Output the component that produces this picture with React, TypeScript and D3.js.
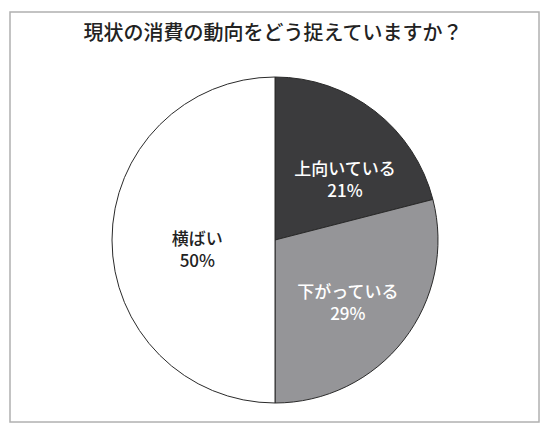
import React, { useRef, useEffect } from 'react';
import * as d3 from 'd3';

// data
const categories = ['上向いている', '下がっている', '横ばい'];
const shares = [21, 29, 50];
const fills = ['#3b3b3d', '#959598', '#ffffff'];
const textColors = ['#ffffff', '#ffffff', '#222222'];
const title = '現状の消費の動向をどう捉えていますか？';

// small label nudges (px) so labels sit where the original put them
const labelShift: [number, number][] = [[15, 11], [2, 8], [12, 10]];

const W = 550;
const H = 434;
const FONT = '"Noto Sans CJK JP", "Noto Sans", sans-serif';

const PieChart: React.FC = () => {
    const ref = useRef<SVGSVGElement>(null);

    useEffect(() => {
        if (!ref.current) return;
        const svg = d3.select(ref.current);
        svg.selectAll('*').remove();

        // frame
        svg.append('rect')
            .attr('x', 10).attr('y', 12)
            .attr('width', 529).attr('height', 410)
            .attr('fill', '#fff')
            .attr('stroke', '#b0b0b0')
            .attr('stroke-width', 1.5);

        svg.append('text')
            .attr('x', 273).attr('y', 40)
            .attr('text-anchor', 'middle')
            .style('font-family', FONT)
            .style('font-size', '20px')
            .style('font-weight', 500)
            .style('fill', '#222')
            .text(title);

        const cx = 275, cy = 240, radius = 163;
        const g = svg.append('g').attr('transform', `translate(${cx},${cy})`);

        const data = categories.map((name, i) => ({ name, value: shares[i], i }));
        const pie = d3.pie<typeof data[number]>().value(d => d.value).sort(null);
        const arcs = pie(data);

        const arc = d3.arc<d3.PieArcDatum<typeof data[number]>>()
            .innerRadius(0).outerRadius(radius);
        const labelArc = d3.arc<d3.PieArcDatum<typeof data[number]>>()
            .innerRadius(radius * 0.55).outerRadius(radius * 0.55);

        g.selectAll('path.slice')
            .data(arcs)
            .enter()
            .append('path')
            .attr('class', 'slice')
            .attr('d', arc)
            .attr('fill', d => fills[d.data.i])
            .attr('stroke', '#2a2a2a')
            .attr('stroke-width', 1);

        // one text per slice, name and share as two lines
        const labels = g.selectAll('text.label')
            .data(arcs)
            .enter()
            .append('text')
            .attr('class', 'label')
            .attr('transform', d => {
                const [x, y] = labelArc.centroid(d);
                const [sx, sy] = labelShift[d.data.i];
                return `translate(${x + sx},${y + sy})`;
            })
            .style('font-family', FONT)
            .style('font-size', '17px')
            .style('font-weight', 500)
            .style('fill', d => textColors[d.data.i])
            .attr('text-anchor', 'middle');

        labels.append('tspan').attr('x', 0).attr('y', -5).text(d => d.data.name);
        labels.append('tspan').attr('x', 0).attr('y', 17).text(d => `${d.data.value}%`);
    }, []);

    return (
        <svg ref={ref} width={W} height={H}
            style={{ position: 'absolute', left: 0, top: 0, background: '#fff' }} />
    );
};

export default function App() {
    return <PieChart />;
}
